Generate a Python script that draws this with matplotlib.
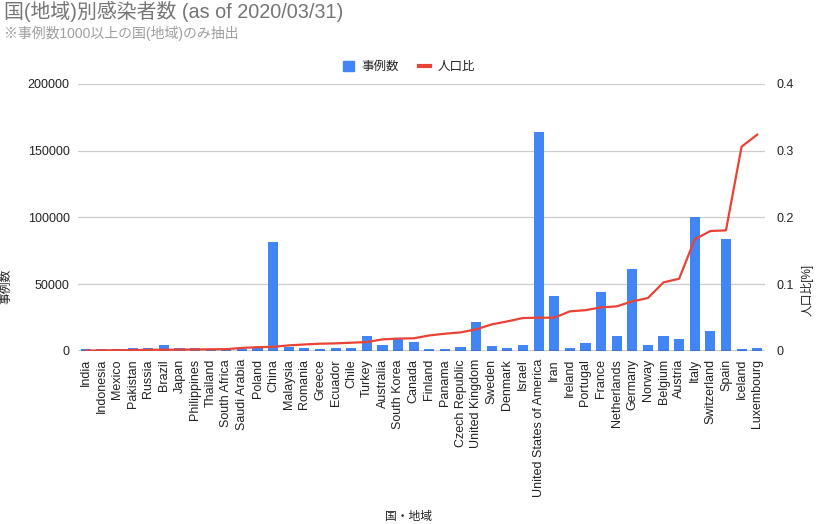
import matplotlib
matplotlib.use("Agg")
import matplotlib.pyplot as plt
import numpy as np
from matplotlib.patches import Rectangle
from matplotlib.lines import Line2D

plt.rcParams['font.family'] = ['Liberation Sans', 'Noto Sans CJK JP', 'DejaVu Sans']

countries = ["India", "Indonesia", "Mexico", "Pakistan", "Russia", "Brazil", "Japan",
             "Philippines", "Thailand", "South Africa", "Saudi Arabia", "Poland", "China",
             "Malaysia", "Romania", "Greece", "Ecuador", "Chile", "Turkey", "Australia",
             "South Korea", "Canada", "Finland", "Panama", "Czech Republic", "United Kingdom",
             "Sweden", "Denmark", "Israel", "United States of America", "Iran", "Ireland",
             "Portugal", "France", "Netherlands", "Germany", "Norway", "Belgium", "Austria",
             "Italy", "Switzerland", "Spain", "Iceland", "Luxembourg"]

cases = [1250, 1400, 1000, 1800, 1800, 4300, 1900,
         1800, 1500, 1300, 1450, 2000, 81600,
         2600, 1800, 1200, 1900, 2400, 10800, 4200,
         9600, 6800, 1100, 1100, 2500, 21700,
         3800, 2300, 4000, 163900, 40800, 2400,
         5900, 43800, 10900, 61000, 4000, 11000, 9000,
         100500, 14800, 84100, 1000, 1700]

ratio = [0.0001, 0.0005, 0.0008, 0.0009, 0.0013, 0.0015, 0.0016,
         0.0018, 0.0022, 0.0023, 0.0042, 0.0053, 0.0058,
         0.0080, 0.0094, 0.0105, 0.0110, 0.0120, 0.0130, 0.0170,
         0.0182, 0.0186, 0.0229, 0.0255, 0.0275, 0.0320,
         0.0395, 0.0440, 0.0490, 0.0495, 0.0495, 0.0590,
         0.0608, 0.0650, 0.0665, 0.0740, 0.0790, 0.1025, 0.1080,
         0.1670, 0.1795, 0.1805, 0.3060, 0.3240]

left_ticks = [0, 50000, 100000, 150000, 200000]
right_ticks = [0, 0.1, 0.2, 0.3, 0.4]

BLUE = "#4285f4"
RED = "#ea4335"
TXT = "#222222"

fig = plt.figure(figsize=(8.16, 5.24), dpi=100)
ax = fig.add_axes([0.0956, 0.3307, 0.8419, 0.509])
ax2 = ax.twinx()

x = np.arange(len(countries))
ax.bar(x, cases, width=0.65, color=BLUE, zorder=2)
ax2.plot(x, ratio, color=RED, lw=1.6, zorder=3, solid_joinstyle='round')

ax.set_xlim(-0.5, len(countries) - 0.5)
ax.set_ylim(0, 200000)
ax2.set_ylim(0, 0.4)
ax.set_yticks(left_ticks)
ax.set_yticklabels([str(v) for v in left_ticks])
ax2.set_yticks(right_ticks)
ax2.set_yticklabels([("0" if v == 0 else f"{v:.1f}") for v in right_ticks])

ax.grid(axis='y', color='#cccccc', lw=0.9, zorder=0)
ax.set_axisbelow(True)
for a in (ax, ax2):
    for s in a.spines.values():
        s.set_visible(False)
    a.tick_params(length=0, labelsize=9, colors=TXT)
ax.axhline(0, color='#333333', lw=1.0, zorder=4)

ax.set_xticks(x)
ax.set_xticklabels(countries, rotation=90, fontsize=9, color=TXT)
ax.tick_params(axis='x', pad=6)
ax.tick_params(axis='y', pad=6)
ax2.tick_params(axis='y', pad=8)

ax2.set_zorder(ax.get_zorder() + 1)
ax.patch.set_visible(True)
ax2.patch.set_visible(False)

fig.text(0.005, 0.978, "国(地域)別感染者数 (as of 2020/03/31)", fontsize=14.3,
         color="#757575", va='center', ha='left')
fig.text(0.005, 0.937, "※事例数1000以上の国(地域)のみ抽出", fontsize=10,
         color="#9e9e9e", va='center', ha='left')

fig.text(6 / 816, 1 - 286 / 524, "事例数", rotation=90, fontsize=8.5, color=TXT,
         va='center', ha='center')
fig.text(807 / 816, 1 - 290 / 524, "人口比[%]", rotation=90, fontsize=8.5, color=TXT,
         va='center', ha='center')
fig.text(408 / 816, 1 - 517 / 524, "国・地域", fontsize=8.5, color=TXT,
         va='center', ha='center')

h1 = Rectangle((0, 0), 1, 1, color=BLUE)
h2 = Line2D([0], [0], color=RED, lw=3)
fig.legend([h1, h2], ["事例数", "人口比"], loc='center', bbox_to_anchor=(409 / 816, 1 - 67 / 524),
           ncol=2, frameon=False, fontsize=9, handlelength=0.9, handleheight=0.9,
           columnspacing=1.6, handletextpad=0.6, labelcolor=TXT)

fig.savefig("out.png", dpi=100)
